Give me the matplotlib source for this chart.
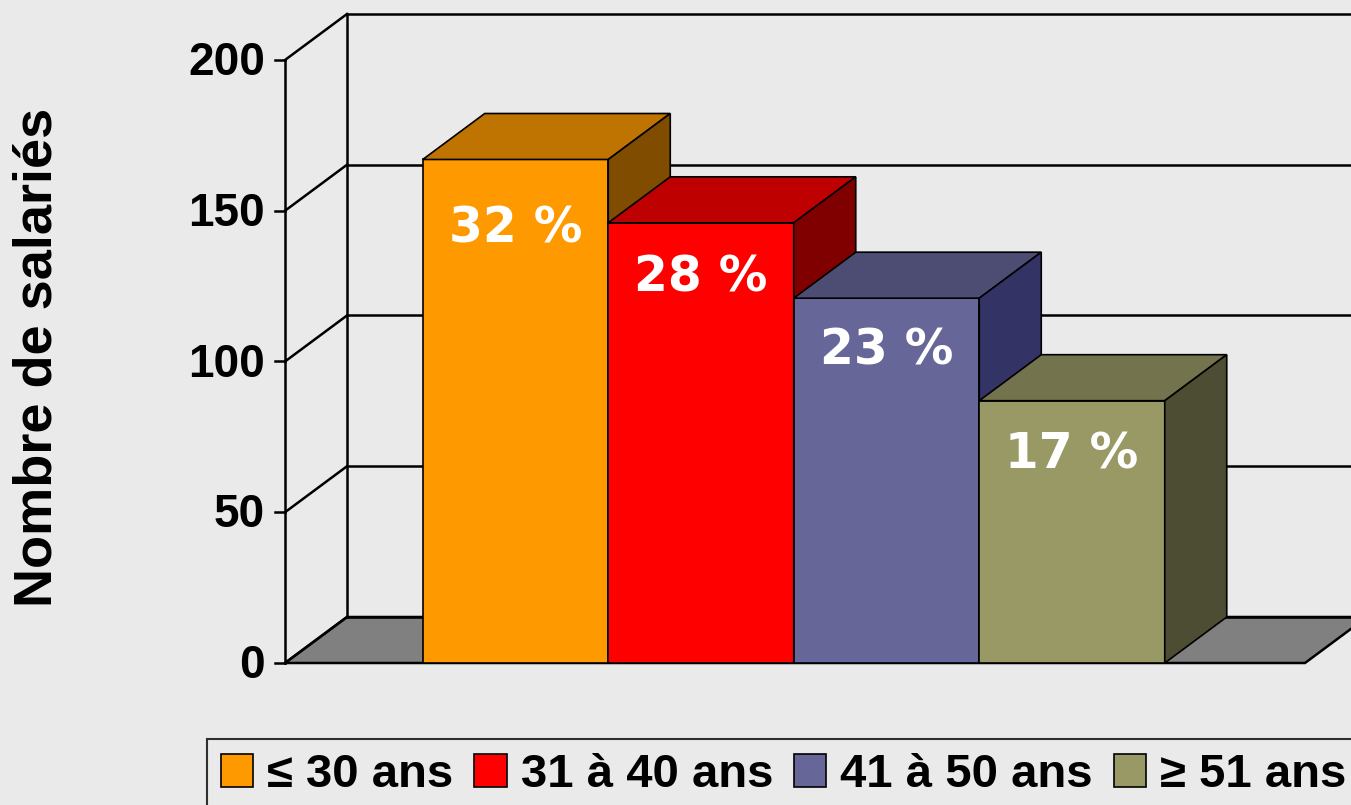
#Chart: Nombre de salariés par tranche d'âge (3D-style bars)
import matplotlib.pyplot as plt
from matplotlib.patches import Polygon, Patch

# Data
categories = ['≤ 30 ans', '31 à 40 ans', '41 à 50 ans', '≥ 51 ans']
values = [167, 146, 121, 87]
percent_labels = ['32 %', '28 %', '23 %', '17 %']
front_colors = ['#FF9900', '#FF0000', '#666699', '#999966']
top_colors = ['#BF7300', '#BF0000', '#4D4D73', '#73734D']
side_colors = ['#804D00', '#800000', '#333366', '#4D4D33']
y_ticks = [0, 50, 100, 150, 200]

# Figure: one axes over the whole canvas, x in category units, y in values
W, H = 1351, 805
fig = plt.figure(figsize=(W / 100, H / 100), dpi=100)
fig.patch.set_facecolor('#EAEAEA')
ax = fig.add_axes([0, 0, 1, 1])
ax.set_facecolor('#EAEAEA')

px_x = 185.5          # pixels per category unit
px_y = 3.015          # pixels per value unit
x0_px, y0_px = 515.5, 663
ax.set_xlim(-x0_px / px_x, (W - x0_px) / px_x)
ax.set_ylim(-(H - y0_px) / px_y, y0_px / px_y)
ax.axis('off')

dx = 62 / px_x        # depth offset (x)
dy = 46 / px_y        # depth offset (y)
xa = (285 - x0_px) / px_x      # front axis position
xf = (1305 - x0_px) / px_x     # floor front right end
xr = ax.get_xlim()[1] + 0.5
lw = 1.8

# Floor
ax.add_patch(Polygon([[xa, 0], [xf, 0], [xf + dx, dy], [xa + dx, dy]],
                     closed=True, facecolor='#808080', edgecolor='black', lw=lw, zorder=1))

# Back wall lines and gridlines
ax.plot([xa + dx, xa + dx], [dy, 200 + dy], color='black', lw=lw, zorder=1)
for t in y_ticks:
    ax.plot([xa + dx, xr], [t + dy, t + dy], color='black', lw=lw, zorder=1)
    ax.plot([xa, xa + dx], [t, t + dy], color='black', lw=lw, zorder=1)
    ax.plot([xa - 10 / px_x, xa], [t, t], color='black', lw=lw, zorder=1)
    ax.text(xa - 20 / px_x, t - 1, str(t), ha='right', va='center', fontsize=33,
            fontweight='bold', family='Liberation Sans', zorder=5)
ax.plot([xa, xa], [0, 200], color='black', lw=lw, zorder=1)

# Bars (front, top, side)
label_drop = [23, 18, 17.5, 18]   # how far each % label sits below its bar top
for i, v in enumerate(values):
    l, r = i - 0.5, i + 0.5
    ax.add_patch(Polygon([[l, 0], [r, 0], [r, v], [l, v]], closed=True,
                         facecolor=front_colors[i], edgecolor='black', lw=1.2, zorder=2 + i))
    ax.add_patch(Polygon([[l, v], [r, v], [r + dx, v + dy], [l + dx, v + dy]], closed=True,
                         facecolor=top_colors[i], edgecolor='black', lw=1.2, zorder=2 + i))
    ax.add_patch(Polygon([[r, 0], [r + dx, dy], [r + dx, v + dy], [r, v]], closed=True,
                         facecolor=side_colors[i], edgecolor='black', lw=1.2, zorder=2 + i))
    ax.text(i, v - label_drop[i], percent_labels[i], ha='center', va='center', color='white',
            fontsize=35, fontweight='bold', family='DejaVu Sans', zorder=10)

# Y axis title
ax.text(-(x0_px - 38) / px_x, (y0_px - 357) / px_y, 'Nombre de salariés', rotation=90,
        ha='center', va='center', fontsize=39, fontweight='bold', family='Liberation Sans')

# Legend
handles = [Patch(facecolor=c, edgecolor='black', lw=1.2) for c in front_colors]
leg = ax.legend(handles, categories, ncol=4, loc='upper left',
                bbox_to_anchor=(207 / W, 1 - 739 / H), frameon=True,
                prop={'family': ['Liberation Sans', 'DejaVu Sans'], 'weight': 'bold', 'size': 34},
                handlelength=0.68, handleheight=0.68, handletextpad=0.3,
                columnspacing=0.44, borderpad=0.3, borderaxespad=0, fancybox=False)
leg.get_frame().set_edgecolor('black')
leg.get_frame().set_facecolor('none')
leg.get_frame().set_linewidth(1.5)

plt.savefig('out.png', dpi=100, facecolor=fig.get_facecolor())
